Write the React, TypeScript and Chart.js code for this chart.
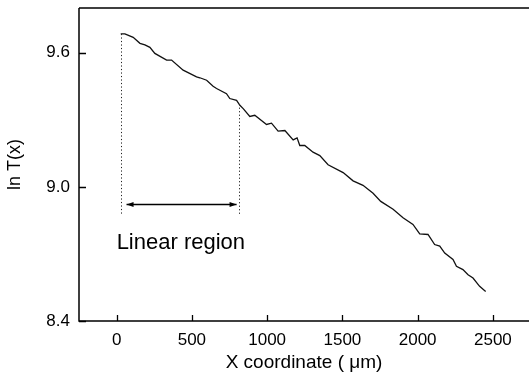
import React, { useEffect, useRef } from "react";
import { Chart, registerables } from "chart.js";

Chart.register(...registerables);

// Curve data: X coordinate (µm) and ln T(x)
const xCoord = [
  27, 55, 110, 155, 188, 221, 254, 332, 365, 442, 531, 553, 598, 641, 664, 730,
  752, 797, 819, 841, 885, 918, 996, 1029, 1073, 1118, 1173, 1199, 1217, 1250,
  1305, 1350, 1405, 1505, 1571, 1637, 1704, 1755, 1837, 1903, 1969, 2014, 2069,
  2113, 2147, 2180, 2235, 2258, 2301, 2335, 2368, 2412, 2452,
];
const lnT = [
  9.684, 9.684, 9.669, 9.642, 9.635, 9.624, 9.597, 9.567, 9.567, 9.522, 9.492,
  9.488, 9.477, 9.45, 9.44, 9.417, 9.395, 9.387, 9.365, 9.35, 9.315, 9.32, 9.279,
  9.285, 9.249, 9.252, 9.21, 9.219, 9.185, 9.185, 9.155, 9.14, 9.099, 9.064,
  9.027, 9.007, 8.971, 8.935, 8.9, 8.862, 8.832, 8.79, 8.787, 8.742, 8.735,
  8.704, 8.675, 8.645, 8.63, 8.607, 8.592, 8.555, 8.532,
];

// Axes
const xTicks = [0, 500, 1000, 1500, 2000, 2500];
const yTicks = [8.4, 9.0, 9.6];
const xRange = [-250, 2740];
const yRange = [8.4, 9.8];
const xTitle = "X coordinate ( \u03bcm)";
const yTitle = "ln T(x)";

// Annotation: linear region
const regionBounds = [27, 814];
const regionTops = [9.684, 9.37];
const regionBottom = 8.877;
const arrowY = 8.922;
const arrowEnds = [66, 797];
const regionLabel = "Linear region";
const regionLabelPos = [0, 8.721];

const FONT = '"Liberation Sans", Arial, Helvetica, sans-serif';

const framePlugin = {
  id: "frameAndNotes",
  afterDraw(chart: any) {
    const { ctx, chartArea: a } = chart;
    const x = chart.scales.x;
    const y = chart.scales.y;
    ctx.save();
    ctx.strokeStyle = "#000";
    ctx.lineWidth = 1.5;
    ctx.beginPath();
    ctx.moveTo(a.left, a.top);
    ctx.lineTo(a.right, a.top);
    ctx.moveTo(a.left, a.top);
    ctx.lineTo(a.left, a.bottom);
    ctx.lineTo(a.right, a.bottom);
    ctx.stroke();

    // inward ticks
    ctx.lineWidth = 1.3;
    ctx.beginPath();
    xTicks.forEach((v) => {
      const px = Math.round(x.getPixelForValue(v)) + 0.5;
      ctx.moveTo(px, a.bottom);
      ctx.lineTo(px, a.bottom - 6);
    });
    yTicks.forEach((v) => {
      const py = Math.round(y.getPixelForValue(v)) + 0.5;
      ctx.moveTo(a.left, py);
      ctx.lineTo(a.left + 7, py);
    });
    ctx.stroke();

    // dotted boundaries
    ctx.setLineDash([1.2, 2.3]);
    ctx.lineWidth = 1;
    ctx.strokeStyle = "#222";
    ctx.beginPath();
    regionBounds.forEach((v, i) => {
      const px = Math.round(x.getPixelForValue(v)) + 0.5;
      ctx.moveTo(px, y.getPixelForValue(regionTops[i]));
      ctx.lineTo(px, y.getPixelForValue(regionBottom));
    });
    ctx.stroke();

    // double arrow
    ctx.setLineDash([]);
    ctx.strokeStyle = "#000";
    ctx.fillStyle = "#000";
    ctx.lineWidth = 1.3;
    const ay = Math.round(y.getPixelForValue(arrowY)) + 0.5;
    const ax1 = x.getPixelForValue(arrowEnds[0]);
    const ax2 = x.getPixelForValue(arrowEnds[1]);
    ctx.beginPath();
    ctx.moveTo(ax1, ay);
    ctx.lineTo(ax2, ay);
    ctx.stroke();
    ctx.beginPath();
    ctx.moveTo(ax1, ay);
    ctx.lineTo(ax1 + 7, ay - 2.5);
    ctx.lineTo(ax1 + 7, ay + 2.5);
    ctx.closePath();
    ctx.moveTo(ax2, ay);
    ctx.lineTo(ax2 - 7, ay - 2.5);
    ctx.lineTo(ax2 - 7, ay + 2.5);
    ctx.closePath();
    ctx.fill();

    // label
    ctx.font = `22px ${FONT}`;
    ctx.textAlign = "left";
    ctx.textBaseline = "alphabetic";
    ctx.fillText(
      regionLabel,
      x.getPixelForValue(regionLabelPos[0]),
      y.getPixelForValue(regionLabelPos[1])
    );
    ctx.restore();
  },
};

export default function App() {
  const ref = useRef<HTMLCanvasElement | null>(null);

  useEffect(() => {
    document.body.style.margin = "0";
    if (!ref.current) return;
    const chart = new Chart(ref.current, {
      type: "line",
      data: {
        datasets: [
          {
            data: xCoord.map((v, i) => ({ x: v, y: lnT[i] })),
            borderColor: "#111",
            borderWidth: 1.3,
            pointRadius: 0,
            tension: 0,
            fill: false,
          },
        ],
      },
      options: {
        animation: false,
        responsive: false,
        devicePixelRatio: 1,
        layout: { padding: { top: 8, right: 0, left: 0, bottom: 0 } },
        plugins: { legend: { display: false }, tooltip: { enabled: false } },
        scales: {
          x: {
            type: "linear",
            min: xRange[0],
            max: xRange[1],
            grid: { display: false, drawTicks: false },
            border: { display: false },
            afterBuildTicks: (s: any) => {
              s.ticks = xTicks.map((v) => ({ value: v }));
            },
            afterFit: (s: any) => {
              s.height = 61;
              s.paddingLeft = 0;
              s.paddingRight = 0;
            },
            ticks: {
              color: "#000",
              padding: 9,
              maxRotation: 0,
              font: { family: FONT, size: 17 },
              callback: (v: any) => String(v),
            },
            title: {
              display: true,
              text: xTitle,
              color: "#000",
              font: { family: FONT, size: 19 },
              padding: { top: 8, bottom: 8 },
            },
          },
          y: {
            type: "linear",
            min: yRange[0],
            max: yRange[1],
            grid: { display: false, drawTicks: false },
            border: { display: false },
            afterBuildTicks: (s: any) => {
              s.ticks = yTicks.map((v) => ({ value: v }));
            },
            afterFit: (s: any) => {
              s.width = 79;
              s.paddingTop = 0;
              s.paddingBottom = 0;
            },
            ticks: {
              color: "#000",
              padding: 9,
              font: { family: FONT, size: 17 },
              callback: (v: any) => Number(v).toFixed(1),
            },
            title: {
              display: true,
              text: yTitle,
              color: "#000",
              font: { family: FONT, size: 18 },
              padding: { top: 4, bottom: 4 },
            },
          },
        },
      },
      plugins: [framePlugin],
    });
    return () => chart.destroy();
  }, []);

  return (
    <div style={{ position: "absolute", left: 0, top: 0, width: 529, height: 382, background: "#fff" }}>
      <canvas ref={ref} width={529} height={382} style={{ display: "block" }} />
    </div>
  );
}
